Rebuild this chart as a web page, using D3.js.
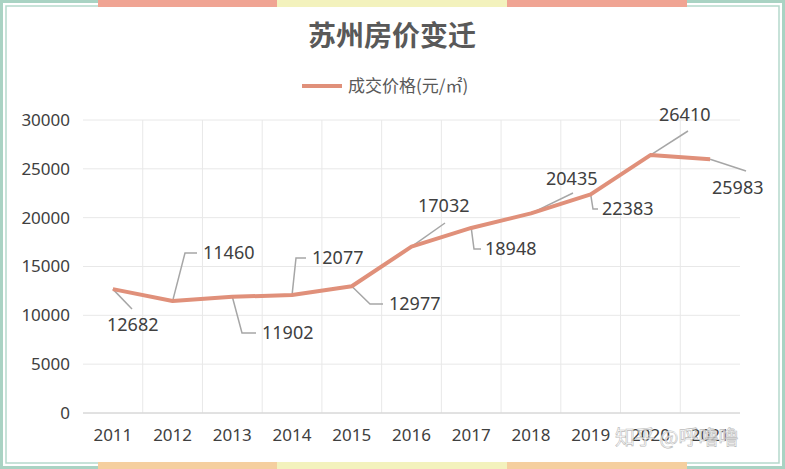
<!DOCTYPE html><html><head><meta charset="utf-8">
<script src="https://cdn.jsdelivr.net/npm/d3@7"></script>
<style>body{margin:0;background:#fff}svg{display:block;font-family:"Noto Sans CJK SC","Noto Sans",sans-serif}</style>
</head><body><svg id="c" width="785" height="469"></svg><script>
const years=["2011","2012","2013","2014","2015","2016","2017","2018","2019","2020","2021"];
const prices=[12682,11460,11902,12077,12977,17032,18948,20435,22383,26410,25983];
const yTicks=[0,5000,10000,15000,20000,25000,30000];
// label layout: text left x, text middle y, leader points (after the data point)
const labelLayout=[
 [107,325,[[132,309]]],
 [203,253,[[185,253],[197,253]]],
 [262,333,[[242,333],[256,333]]],
 [312,258,[[296,258],[306,258]]],
 [389,304,[[370,304],[383,304]]],
 [418,206,[[445,223]]],
 [485,249,[[474,249],[481,249]]],
 [546,179,[[573,193]]],
 [602,209,[[593,209],[598,209]]],
 [659,115,[[688,131]]],
 [712,188,[[746,171]]]
];
const svg=d3.select("#c");
svg.append("rect").attr("x",1.5).attr("y",1.5).attr("width",782).attr("height",466).attr("fill","none").attr("stroke","#a9d3c3").attr("stroke-width",3);
svg.append("rect").attr("x",6).attr("y",6).attr("width",773).attr("height",457).attr("fill","none").attr("stroke","#b5d9cc").attr("stroke-width",1.5);
[[98,277,"#f0a493"],[277,507,"#f3f2bd"],[507,687,"#f0a493"]].forEach(s=>svg.append("rect").attr("x",s[0]).attr("y",0).attr("width",s[1]-s[0]).attr("height",7).attr("fill",s[2]));
[[98,277,"#f5cf9f"],[277,507,"#f3f2bd"],[507,687,"#f5cf9f"]].forEach(s=>svg.append("rect").attr("x",s[0]).attr("y",462).attr("width",s[1]-s[0]).attr("height",7).attr("fill",s[2]));
svg.append("text").attr("x",392).attr("y",46).attr("text-anchor","middle").attr("font-size",28).attr("font-weight","bold").attr("fill","#595959").text("苏州房价变迁");
svg.append("line").attr("x1",302).attr("x2",342).attr("y1",86).attr("y2",86).attr("stroke","#e0907a").attr("stroke-width",4);
svg.append("text").attr("x",348).attr("y",92).attr("font-size",17).attr("fill","#595959").text("成交价格(元/㎡)");
const x=d3.scaleBand().domain(years).range([83,740]);
const y=d3.scaleLinear().domain([0,30000]).range([413,120]);
const g=svg.append("g");
g.selectAll(".gy").data(yTicks).join("line").attr("x1",83).attr("x2",740).attr("y1",d=>y(d)).attr("y2",d=>y(d)).attr("stroke","#e8e8e8");
g.selectAll(".gx").data(years.slice(1)).join("line").attr("x1",d=>x(d)).attr("x2",d=>x(d)).attr("y1",120).attr("y2",413).attr("stroke","#e8e8e8");
g.append("line").attr("x1",83).attr("x2",740).attr("y1",413).attr("y2",413).attr("stroke","#d0d0d0");
const ax=svg.append("g").attr("transform","translate(0,413)").call(d3.axisBottom(x).tickSize(0).tickPadding(16));
ax.select(".domain").remove();
ax.selectAll("text").attr("font-size",17).attr("fill","#404040").attr("font-family","'Noto Sans',sans-serif");
const ay=svg.append("g").attr("transform","translate(72,0)").call(d3.axisLeft(y).tickValues(yTicks).tickFormat(d3.format("d")).tickSize(0).tickPadding(2));
ay.select(".domain").remove();
ay.selectAll("text").attr("font-size",17).attr("fill","#404040").attr("font-family","'Noto Sans',sans-serif");
const px=i=>x(years[i])+x.bandwidth()/2;
svg.append("path").datum(prices).attr("d",d3.line().x((d,i)=>px(i)).y(d=>y(d))).attr("fill","none").attr("stroke","#e0907a").attr("stroke-width",4).attr("stroke-linejoin","round");
prices.forEach((v,i)=>{
  const [lx,ly,pts]=labelLayout[i];
  const all=[[px(i),y(v)],...pts];
  svg.insert("polyline","path").attr("points",all.map(p=>p.join(",")).join(" ")).attr("fill","none").attr("stroke","#a6a6a6").attr("stroke-width",1.5);
  svg.append("text").attr("x",lx).attr("y",ly+6).attr("font-size",18).attr("fill","#404040").attr("font-family","'Noto Sans',sans-serif").text(v);
});
svg.append("text").attr("x",615).attr("y",445).attr("font-size",20).attr("fill","#ffffff").attr("fill-opacity",0.7).attr("stroke","#bbbbbb").attr("stroke-width",0.6).text("知乎 @呼噜噜");
</script></body></html>
